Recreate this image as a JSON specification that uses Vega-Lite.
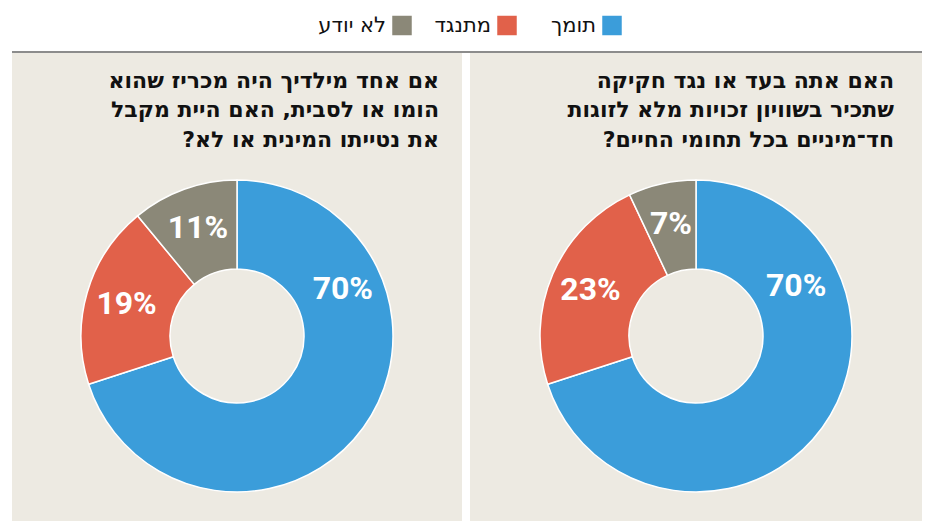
{
  "$schema": "https://vega.github.io/schema/vega-lite/v6.json",
  "background": "white",
  "padding": {"left": 12, "top": 0, "right": 0, "bottom": 0},
  "config": {"view": {"stroke": null}},
  "datasets": {
    "legend": [
      {"answer": "תומך"},
      {"answer": "מתנגד"},
      {"answer": "לא יודע"}
    ],
    "right": [
      {"answer": "תומך", "value": 70, "label": "70%"},
      {"answer": "מתנגד", "value": 23, "label": "23%"},
      {"answer": "לא יודע", "value": 7, "label": "7%"}
    ],
    "left": [
      {"answer": "תומך", "value": 70, "label": "70%"},
      {"answer": "מתנגד", "value": 19, "label": "19%"},
      {"answer": "לא יודע", "value": 11, "label": "11%"}
    ],
    "titleRight": [
      {"n": 1, "line": "האם אתה בעד או נגד חקיקה"},
      {"n": 2, "line": "שתכיר בשוויון זכויות מלא לזוגות"},
      {"n": 3, "line": "\u200fחד־מיניים בכל תחומי החיים?\u200f"}
    ],
    "titleLeft": [
      {"n": 1, "line": "אם אחד מילדיך היה מכריז שהוא"},
      {"n": 2, "line": "\u200fהומו או לסבית, האם היית מקבל"},
      {"n": 3, "line": "\u200fאת נטייתו המינית או לא?\u200f"}
    ]
  },
  "spacing": 0,
  "resolve": {"scale": {"x": "independent", "y": "independent", "color": "independent", "theta": "independent"}},
  "vconcat": [
    {
      "width": 910,
      "height": 51,
      "data": {"name": "legend"},
      "encoding": {
        "x": {"field": "answer", "type": "nominal", "axis": null,
              "scale": {"type": "point", "padding": 0, "domain": ["לא יודע", "מתנגד", "תומך"], "range": [390, 600]}}
      },
      "layer": [
        {
          "mark": {"type": "square", "size": 380, "opacity": 1},
          "encoding": {
            "color": {"field": "answer", "type": "nominal", "legend": null,
                      "scale": {"domain": ["תומך", "מתנגד", "לא יודע"], "range": ["#3B9DDA", "#E1614A", "#8B8878"]}}
          }
        },
        {
          "mark": {"type": "text", "align": "right", "baseline": "middle", "dx": -16, "fontSize": 21, "font": "DejaVu Sans", "color": "#111111"},
          "encoding": {"text": {"field": "answer"}}
        }
      ]
    },
    {
      "width": 910,
      "height": 2,
      "view": {"fill": "#8C8C8C", "stroke": null},
      "data": {"values": []},
      "mark": "point"
    },
    {
      "spacing": 8,
      "resolve": {"scale": {"x": "independent", "y": "independent", "color": "independent", "theta": "independent"}},
      "hconcat": [
        {
          "spacing": 0,
          "resolve": {"scale": {"x": "independent", "y": "independent", "color": "independent", "theta": "independent"}},
          "vconcat": [
            {
              "width": 450,
              "height": 98,
              "view": {"fill": "#EDEAE2", "stroke": null},
              "data": {"name": "titleLeft"},
              "mark": {"type": "text", "align": "right", "baseline": "alphabetic", "dx": -23, "fontSize": 22, "fontWeight": "bold", "font": "DejaVu Sans", "color": "#111111"},
              "encoding": {
                "x": {"datum": 1, "type": "quantitative", "axis": null, "scale": {"domain": [0, 1]}},
                "y": {"field": "n", "type": "ordinal", "axis": null, "scale": {"type": "point", "padding": 0.661, "align": 0.897}},
                "text": {"field": "line"}
              }
            },
            {
              "width": 450,
              "height": 370,
              "view": {"fill": "#EDEAE2", "stroke": null},
              "data": {"name": "left"},
              "encoding": {
                "theta": {"field": "value", "type": "quantitative", "stack": true},
                "order": {"field": "value", "sort": "descending"}
              },
              "layer": [
                {
                  "mark": {"type": "arc", "outerRadius": 156, "innerRadius": 67, "stroke": "white", "strokeWidth": 1.5},
                  "encoding": {
                    "color": {"field": "answer", "type": "nominal", "legend": null,
                              "scale": {"domain": ["תומך", "מתנגד", "לא יודע"], "range": ["#3B9DDA", "#E1614A", "#8B8878"]}}
                  }
                },
                {
                  "mark": {"type": "text", "radius": 115, "fontSize": 32, "fontWeight": "bold", "font": "Roboto", "color": "white", "align": "center", "baseline": "middle"},
                  "encoding": {
                    "text": {"condition": {"test": "datum.answer !== 'תומך'", "field": "label"}, "value": ""}
                  }
                },
                {
                  "mark": {"type": "text", "radius": 116, "thetaOffset": -1.05, "fontSize": 32, "fontWeight": "bold", "font": "Roboto", "color": "white", "align": "center", "baseline": "middle"},
                  "encoding": {
                    "text": {"condition": {"test": "datum.answer === 'תומך'", "field": "label"}, "value": ""}
                  }
                }
              ]
            }
          ]
        },
        {
          "spacing": 0,
          "resolve": {"scale": {"x": "independent", "y": "independent", "color": "independent", "theta": "independent"}},
          "vconcat": [
            {
              "width": 452,
              "height": 98,
              "view": {"fill": "#EDEAE2", "stroke": null},
              "data": {"name": "titleRight"},
              "mark": {"type": "text", "align": "right", "baseline": "alphabetic", "dx": -28, "fontSize": 22, "fontWeight": "bold", "font": "DejaVu Sans", "color": "#111111"},
              "encoding": {
                "x": {"datum": 1, "type": "quantitative", "axis": null, "scale": {"domain": [0, 1]}},
                "y": {"field": "n", "type": "ordinal", "axis": null, "scale": {"type": "point", "padding": 0.661, "align": 0.897}},
                "text": {"field": "line"}
              }
            },
            {
              "width": 452,
              "height": 370,
              "view": {"fill": "#EDEAE2", "stroke": null},
              "data": {"name": "right"},
              "encoding": {
                "theta": {"field": "value", "type": "quantitative", "stack": true},
                "order": {"field": "value", "sort": "descending"}
              },
              "layer": [
                {
                  "mark": {"type": "arc", "outerRadius": 156, "innerRadius": 67, "stroke": "white", "strokeWidth": 1.5},
                  "encoding": {
                    "color": {"field": "answer", "type": "nominal", "legend": null,
                              "scale": {"domain": ["תומך", "מתנגד", "לא יודע"], "range": ["#3B9DDA", "#E1614A", "#8B8878"]}}
                  }
                },
                {
                  "mark": {"type": "text", "radius": 115, "fontSize": 32, "fontWeight": "bold", "font": "Roboto", "color": "white", "align": "center", "baseline": "middle"},
                  "encoding": {
                    "text": {"condition": {"test": "datum.answer !== 'תומך'", "field": "label"}, "value": ""}
                  }
                },
                {
                  "mark": {"type": "text", "radius": 112, "thetaOffset": -1.093, "fontSize": 32, "fontWeight": "bold", "font": "Roboto", "color": "white", "align": "center", "baseline": "middle"},
                  "encoding": {
                    "text": {"condition": {"test": "datum.answer === 'תומך'", "field": "label"}, "value": ""}
                  }
                }
              ]
            }
          ]
        }
      ]
    }
  ]
}
